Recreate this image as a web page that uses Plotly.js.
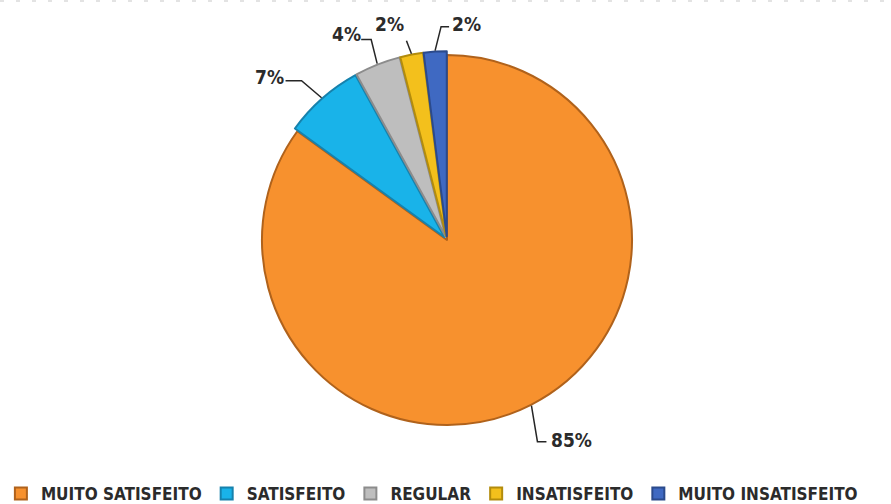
<!DOCTYPE html>
<html>
<head>
<meta charset="utf-8">
<script src="https://cdn.plot.ly/plotly-3.0.1.min.js"></script>
<style>html,body{margin:0;padding:0;background:#fff;}#chart{width:891px;height:504px;}</style>
</head>
<body>
<div id="chart"></div>
<script>
// ---- data ----
var categories = ["MUITO SATISFEITO", "SATISFEITO", "REGULAR", "INSATISFEITO", "MUITO INSATISFEITO"];
var values = [85, 7, 4, 2, 2];
var labelTexts = ["85%", "7%", "4%", "2%", "2%"];

// ---- style ----
var colors = ["#F7912E", "#19B3E9", "#BEBEBE", "#F3C01C", "#3F69C2"];
var edgeColors = ["#B0621B", "#1682AD", "#8C8C8C", "#B38C0C", "#2B4A8C"];
var pulls = [0, 0.02, 0.02, 0.02, 0.02];
var W = 891, H = 504;
var CX = 447, CY = 240, R = 185;
var maxPull = Math.max.apply(null, pulls);
var half = R * (1 + maxPull);
var FONT = '"DejaVu Sans Condensed", "Liberation Sans Narrow", Arial, sans-serif';
// leader geometry offsets (pixels) relative to slice edge point: [elbow, end, textCenter]
var leaderOffsets = [
  [[6, 36], [15, 36], [40, 34]],
  [[-20, -17], [-36, -17], [-52, -21]],
  [[-6, -24], [-16, -24], [-31, -30]],
  [[-5, -13], [-5, -13], [-22, -30]],
  [[6, -24], [14, -24], [31, -27]]
];

function px2x(p) { return p / W; }
function py2y(p) { return 1 - p / H; }

var total = values.reduce(function (a, b) { return a + b; }, 0);
var shapes = [];
var annotations = [];
var cum = 0;
values.forEach(function (v, i) {
  var mid = (cum + v / 2) / total * 2 * Math.PI;
  cum += v;
  var rr = R * (1 + pulls[i]) + 1;
  var ex = CX + rr * Math.sin(mid), ey = CY - rr * Math.cos(mid);
  var o = leaderOffsets[i];
  var p = "M" + px2x(ex) + "," + py2y(ey) +
          " L" + px2x(ex + o[0][0]) + "," + py2y(ey + o[0][1]) +
          " L" + px2x(ex + o[1][0]) + "," + py2y(ey + o[1][1]);
  shapes.push({type: "path", xref: "paper", yref: "paper", path: p,
               line: {color: "#262626", width: 1.5}});
  annotations.push({xref: "paper", yref: "paper",
                    x: px2x(ex + o[2][0]), y: py2y(ey + o[2][1]),
                    xanchor: "center", yanchor: "middle", showarrow: false,
                    text: "<b>" + labelTexts[i] + "</b>",
                    font: {family: FONT, size: 19, color: "#2B2B2B"}});
});

shapes.push({type: "line", xref: "paper", yref: "paper", x0: 0, x1: 1,
             y0: py2y(1), y1: py2y(1),
             line: {color: "#E3E3E3", width: 2, dash: "4px,12px"}});

var trace = {
  type: "pie",
  labels: categories,
  values: values,
  sort: false,
  direction: "clockwise",
  rotation: 0,
  pull: pulls,
  textinfo: "none",
  hoverinfo: "label+percent",
  marker: {colors: colors, line: {color: edgeColors, width: 2}},
  domain: {x: [px2x(CX - half), px2x(CX + half)], y: [py2y(CY + half), py2y(CY - half)]}
};

var layout = {
  width: W, height: H,
  margin: {l: 0, r: 0, t: 0, b: 0, autoexpand: false},
  paper_bgcolor: "#FFFFFF",
  showlegend: true,
  legend: {orientation: "h", x: 0.001, xanchor: "left", y: -0.016, yanchor: "bottom",
           traceorder: "normal",
           font: {family: FONT, size: 17, color: "#2B2B2B", weight: "bold"},
           itemwidth: 30, tracegroupgap: 0},
  shapes: shapes,
  annotations: annotations
};

Plotly.newPlot("chart", [trace], layout, {displayModeBar: false, staticPlot: true});
</script>
</body>
</html>
